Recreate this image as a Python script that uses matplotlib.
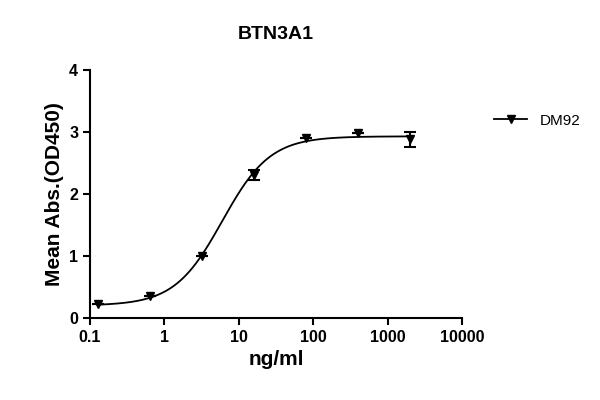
import numpy as np
import matplotlib
matplotlib.use("Agg")
import matplotlib.pyplot as plt
from matplotlib.lines import Line2D

conc = [0.128, 0.64, 3.2, 16, 80, 400, 2000]
mean_od = [0.22, 0.35, 1.0, 2.3, 2.9, 2.99, 2.88]
err_od = [0.0, 0.0, 0.0, 0.08, 0.0, 0.0, 0.12]
# 4PL fit parameters
bottom, top, ec50, hill = 0.20, 2.93, 6.0, 1.35

plt.rcParams['font.family'] = ['Liberation Sans', 'DejaVu Sans']
fig = plt.figure(figsize=(6, 4), dpi=100)
ax = fig.add_axes([0.15, 0.205, 0.62, 0.62])

xs = np.logspace(np.log10(0.128), np.log10(2000), 300)
ax.plot(xs, bottom + (top - bottom) / (1 + (ec50 / xs) ** hill), color='black', lw=1.3)
ax.errorbar(conc, mean_od, yerr=err_od, fmt='v', color='black', ms=6,
            capsize=4, elinewidth=1.5, capthick=1.5)

ax.set_xscale('log')
ax.set_xlim(0.1, 10000)
ax.set_ylim(0, 4)
ax.set_yticks([0, 1, 2, 3, 4])
ax.set_xticks([0.1, 1, 10, 100, 1000, 10000])
ax.set_xticklabels(['0.1', '1', '10', '100', '1000', '10000'])
ax.minorticks_off()
for s in ['top', 'right']:
    ax.spines[s].set_visible(False)
for s in ['left', 'bottom']:
    ax.spines[s].set_linewidth(1.5)
ax.tick_params(width=1.5, length=5, labelsize=11.5)
for lab in ax.get_xticklabels() + ax.get_yticklabels():
    lab.set_fontweight('bold')
ax.set_xlabel('ng/ml', fontsize=15, fontweight='bold')
ax.set_ylabel('Mean Abs.(OD450)', fontsize=15, fontweight='bold')
ax.set_title('BTN3A1', fontsize=14, fontweight='bold', pad=22)

h = [Line2D([], [], color='black', marker='v', lw=1.3, ms=6)]
fig.legend(h, ['DM92'], loc='upper left', bbox_to_anchor=(0.8, 0.75),
           frameon=False, fontsize=11, handlelength=2.2)

fig.savefig('out.png', dpi=100)
